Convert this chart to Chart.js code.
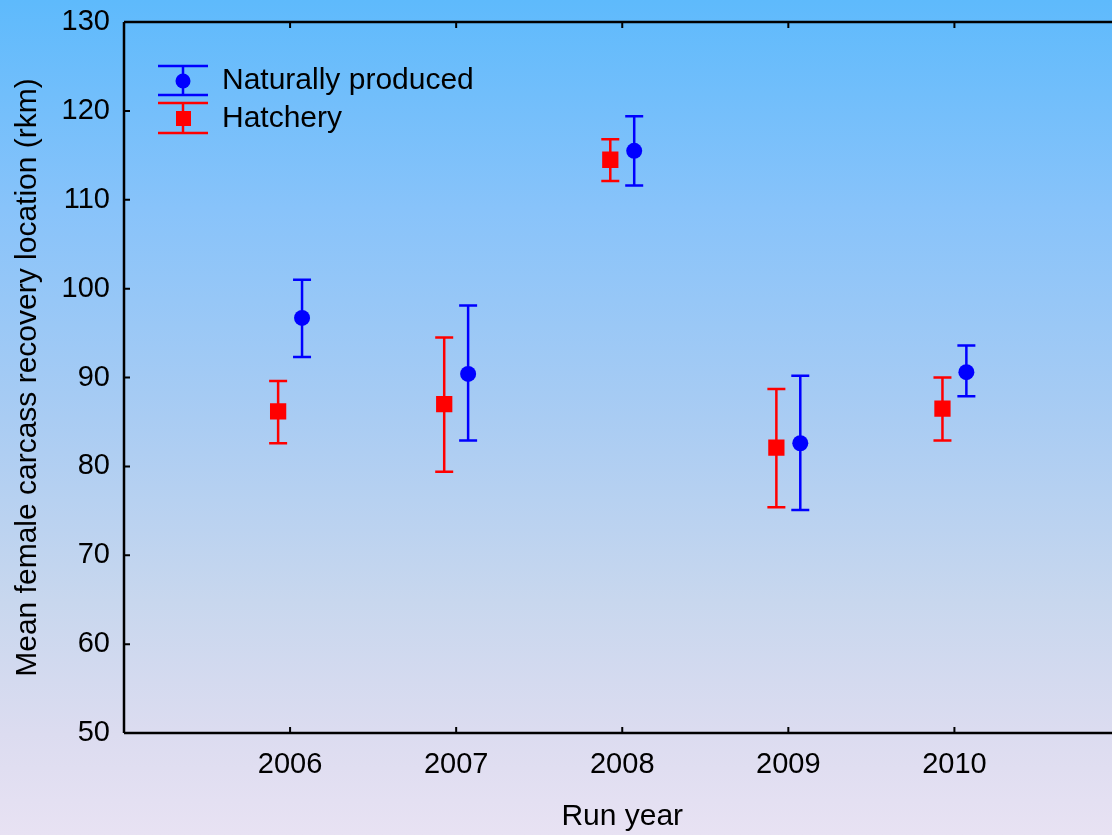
<!DOCTYPE html>
<html>
<head>
<meta charset="utf-8">
<script src="https://cdn.jsdelivr.net/npm/chart.js@4.4.1/dist/chart.umd.min.js"></script>
<style>
  html, body { margin: 0; padding: 0; overflow: hidden; }
  body {
    width: 1112px; height: 835px;
    background: linear-gradient(to bottom, #5ebafc 0%, #88c3fa 25%, #a9ccf3 50%, #c8d7ee 72%, #dcdcf0 88%, #e8e2f3 100%);
  }
  #wrap { position: relative; width: 1132px; height: 835px; }
</style>
</head>
<body>
<div id="wrap"><canvas id="errchart"></canvas></div>
<script>
// run years and readings (rkm)
var years = [2006, 2007, 2008, 2009, 2010]
var yTicks = [50, 60, 70, 80, 90, 100, 110, 120, 130]

var naturalMean  = [96.7, 90.4, 115.5, 82.6, 90.6]
var naturalUpper = [101.0, 98.1, 119.4, 90.2, 93.6]
var naturalLower = [92.3, 82.9, 111.6, 75.1, 87.9]

var hatcheryMean  = [86.2, 87.0, 114.5, 82.1, 86.5]
var hatcheryUpper = [89.6, 94.5, 116.8, 88.7, 90.0]
var hatcheryLower = [82.6, 79.4, 112.1, 75.4, 82.9]

var shift = 0.072
var fontName = '"Liberation Sans", Arial, sans-serif'

function makePoints(means, uppers, lowers, dx) {
    return years.map( (yr, i) => ({ x: yr + dx, y: means[i], hi: uppers[i], lo: lowers[i] }) )
}

function noPad(scale) {
    scale.paddingTop = 0
    scale.paddingBottom = 0
    scale.paddingLeft = 0
    scale.paddingRight = 0
}

// whiskers + frame with inward ticks
const errorBarPlugin = {
    id: 'errorbars',
    beforeDatasetsDraw(chart) {
        const { ctx, scales: { x, y } } = chart
        ctx.save()
        chart.data.datasets.forEach( (ds) => {
            ctx.strokeStyle = ds.borderColor
            ctx.lineWidth = 2.5
            ds.data.forEach( (p) => {
                let px = x.getPixelForValue(p.x)
                let top = y.getPixelForValue(p.hi)
                let bot = y.getPixelForValue(p.lo)
                ctx.beginPath()
                ctx.moveTo(px, top); ctx.lineTo(px, bot)
                ctx.moveTo(px - 9, top); ctx.lineTo(px + 9, top)
                ctx.moveTo(px - 9, bot); ctx.lineTo(px + 9, bot)
                ctx.stroke()
            })
        })
        ctx.restore()
    },
    afterDraw(chart) {
        const { ctx, chartArea: a, scales: { x, y } } = chart
        ctx.save()
        ctx.strokeStyle = '#000'
        ctx.lineWidth = 2.5
        ctx.beginPath()
        ctx.moveTo(a.left, a.top); ctx.lineTo(a.right, a.top)
        ctx.moveTo(a.left, a.top); ctx.lineTo(a.left, a.bottom)
        ctx.moveTo(a.left, a.bottom); ctx.lineTo(a.right, a.bottom)
        ctx.stroke()
        ctx.lineWidth = 2
        ctx.beginPath()
        years.forEach( (yr) => {
            let px = x.getPixelForValue(yr)
            ctx.moveTo(px, a.bottom); ctx.lineTo(px, a.bottom - 6)
            ctx.moveTo(px, a.top); ctx.lineTo(px, a.top + 6)
        })
        yTicks.forEach( (v) => {
            let py = y.getPixelForValue(v)
            ctx.moveTo(a.left, py); ctx.lineTo(a.left + 6, py)
        })
        ctx.stroke()

        // legend
        ctx.lineWidth = 2.5
        ctx.strokeStyle = '#0000ff'
        ctx.beginPath()
        ctx.moveTo(158, 66); ctx.lineTo(208, 66)
        ctx.moveTo(158, 95); ctx.lineTo(208, 95)
        ctx.moveTo(183, 66); ctx.lineTo(183, 95)
        ctx.stroke()
        ctx.fillStyle = '#0000ff'
        ctx.beginPath()
        ctx.arc(183, 81, 7.5, 0, Math.PI * 2)
        ctx.fill()

        ctx.strokeStyle = '#ff0000'
        ctx.beginPath()
        ctx.moveTo(158, 103); ctx.lineTo(208, 103)
        ctx.moveTo(158, 133); ctx.lineTo(208, 133)
        ctx.moveTo(183, 103); ctx.lineTo(183, 133)
        ctx.stroke()
        ctx.fillStyle = '#ff0000'
        ctx.fillRect(176, 111, 15, 15)

        ctx.fillStyle = '#000'
        ctx.font = '30px ' + fontName
        ctx.textBaseline = 'middle'
        ctx.textAlign = 'left'
        ctx.fillText('Naturally produced', 222, 81)
        ctx.fillText('Hatchery', 222, 119)
        ctx.restore()
    }
}

const config = {
    type: 'scatter',
    data: {
        datasets: [
            {
                label: 'Naturally produced',
                data: makePoints(naturalMean, naturalUpper, naturalLower, shift),
                backgroundColor: '#0000ff',
                borderColor: '#0000ff',
                pointStyle: 'circle',
                pointRadius: 8,
                pointBorderWidth: 0
            },
            {
                label: 'Hatchery',
                data: makePoints(hatcheryMean, hatcheryUpper, hatcheryLower, -shift),
                backgroundColor: '#ff0000',
                borderColor: '#ff0000',
                pointStyle: 'rect',
                pointRadius: 11.5,
                pointBorderWidth: 0
            }
        ]
    },
    options: {
        responsive: false,
        animation: false,
        layout: { padding: { top: 22, right: 0, bottom: 0, left: 0 } },
        scales: {
            x: {
                type: 'linear',
                min: 2005,
                max: 2011,
                afterBuildTicks: (scale) => { scale.ticks = years.map( v => ({ value: v }) ) },
                afterFit: (scale) => { scale.height = 102; noPad(scale) },
                grid: { display: false, drawTicks: false },
                border: { display: false },
                ticks: {
                    color: '#000',
                    padding: 15,
                    font: { family: fontName, size: 29 },
                    callback: (v) => String(v)
                },
                title: {
                    display: true,
                    text: 'Run year',
                    color: '#000',
                    font: { family: fontName, size: 30 },
                    padding: { top: 0, bottom: 0 }
                }
            },
            y: {
                min: 50,
                max: 130,
                afterBuildTicks: (scale) => { scale.ticks = yTicks.map( v => ({ value: v }) ) },
                afterFit: (scale) => { scale.width = 124; noPad(scale) },
                grid: { display: false, drawTicks: false },
                border: { display: false },
                ticks: {
                    color: '#000',
                    padding: 14,
                    font: { family: fontName, size: 29 }
                },
                title: {
                    display: true,
                    text: 'Mean female carcass recovery location (rkm)',
                    color: '#000',
                    font: { family: fontName, size: 30 },
                    padding: { top: 10, bottom: 0 }
                }
            }
        },
        plugins: {
            legend: { display: false },
            tooltip: { enabled: false }
        }
    },
    plugins: [errorBarPlugin]
}

let canvas = document.getElementById('errchart')
canvas.width = 1132
canvas.height = 835
new Chart(canvas, config)
</script>
</body>
</html>
